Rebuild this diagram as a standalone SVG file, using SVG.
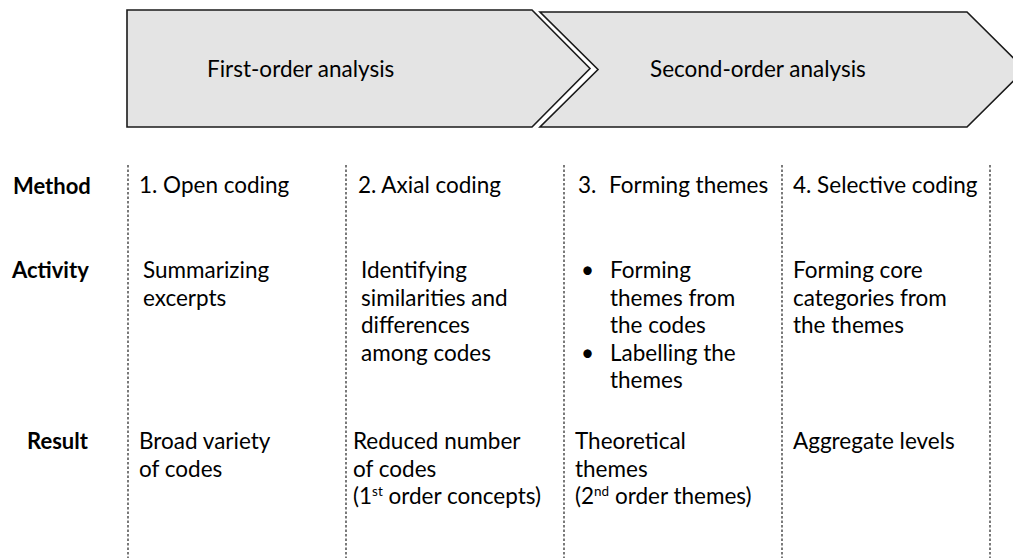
<svg xmlns="http://www.w3.org/2000/svg" width="1013" height="558" viewBox="0 0 1013 558">
<style>
  .phase { fill: #e4e4e4; stroke: #1a1a1a; stroke-width: 1.6; stroke-linejoin: miter; }
  .t { font-family: Lato, "Open Sans", "Liberation Sans", sans-serif; font-size: 22.5px; fill: #000; }
  .ph { font-family: Lato, "Open Sans", "Liberation Sans", sans-serif; font-size: 22.5px; fill: #000; }
  .lbl { font-family: Lato, "Open Sans", "Liberation Sans", sans-serif; font-size: 22px; font-weight: bold; fill: #000; }
  .div { stroke: #222; stroke-width: 1.2; stroke-dasharray: 2.5 2; fill: none; }
  .sup { font-size: 13.5px; }
</style>
<rect width="1013" height="558" fill="#ffffff"/>

<g id="phase-first">
  <polygon class="phase" points="127,10 532,10 590,68.5 532,127 127,127"/>
  <text class="ph" x="207" y="77">First-order analysis</text>
</g>
<g id="phase-second">
  <polygon class="phase" points="540,12 967,12 1025,69.5 967,127 540,127 598,69.5"/>
  <text class="ph" x="650" y="77">Second-order analysis</text>
</g>

<g id="connectors">
  <line class="div" x1="128" y1="165" x2="128" y2="558"/>
  <line class="div" x1="346" y1="165" x2="346" y2="558"/>
  <line class="div" x1="564" y1="165" x2="564" y2="558"/>
  <line class="div" x1="782" y1="165" x2="782" y2="558"/>
  <line class="div" x1="990" y1="165" x2="990" y2="558"/>
</g>

<g id="row-labels">
  <text class="lbl" x="13" y="194">Method</text>
  <text class="lbl" x="12" y="278">Activity</text>
  <text class="lbl" x="27" y="449">Result</text>
</g>

<g id="col-open-coding">
  <text class="t" x="139" y="193">1. Open coding</text>
  <text class="t" x="143" y="278">Summarizing</text>
  <text class="t" x="143" y="306">excerpts</text>
  <text class="t" x="139" y="449">Broad variety</text>
  <text class="t" x="139" y="477">of codes</text>
</g>

<g id="col-axial-coding">
  <text class="t" x="358" y="193">2. Axial coding</text>
  <text class="t" x="361" y="278">Identifying</text>
  <text class="t" x="361" y="306">similarities and</text>
  <text class="t" x="361" y="333">differences</text>
  <text class="t" x="361" y="361">among codes</text>
  <text class="t" x="353" y="449">Reduced number</text>
  <text class="t" x="353" y="477">of codes</text>
  <text class="t" x="353" y="504">(1<tspan class="sup" dy="-8">st</tspan><tspan dy="8"> order concepts)</tspan></text>
</g>

<g id="col-forming-themes">
  <text class="t" x="578" y="193">3.</text>
  <text class="t" x="609" y="193">Forming themes</text>
  <text class="t" x="581" y="278">•</text>
  <text class="t" x="610" y="278">Forming</text>
  <text class="t" x="610" y="306">themes from</text>
  <text class="t" x="610" y="333">the codes</text>
  <text class="t" x="581" y="361">•</text>
  <text class="t" x="610" y="361">Labelling the</text>
  <text class="t" x="610" y="388">themes</text>
  <text class="t" x="575" y="449">Theoretical</text>
  <text class="t" x="575" y="477">themes</text>
  <text class="t" x="575" y="504">(2<tspan class="sup" dy="-8">nd</tspan><tspan dy="8"> order themes)</tspan></text>
</g>

<g id="col-selective-coding">
  <text class="t" x="793" y="193">4. Selective coding</text>
  <text class="t" x="793" y="278">Forming core</text>
  <text class="t" x="793" y="306">categories from</text>
  <text class="t" x="793" y="333">the themes</text>
  <text class="t" x="793" y="449">Aggregate levels</text>
</g>
</svg>
